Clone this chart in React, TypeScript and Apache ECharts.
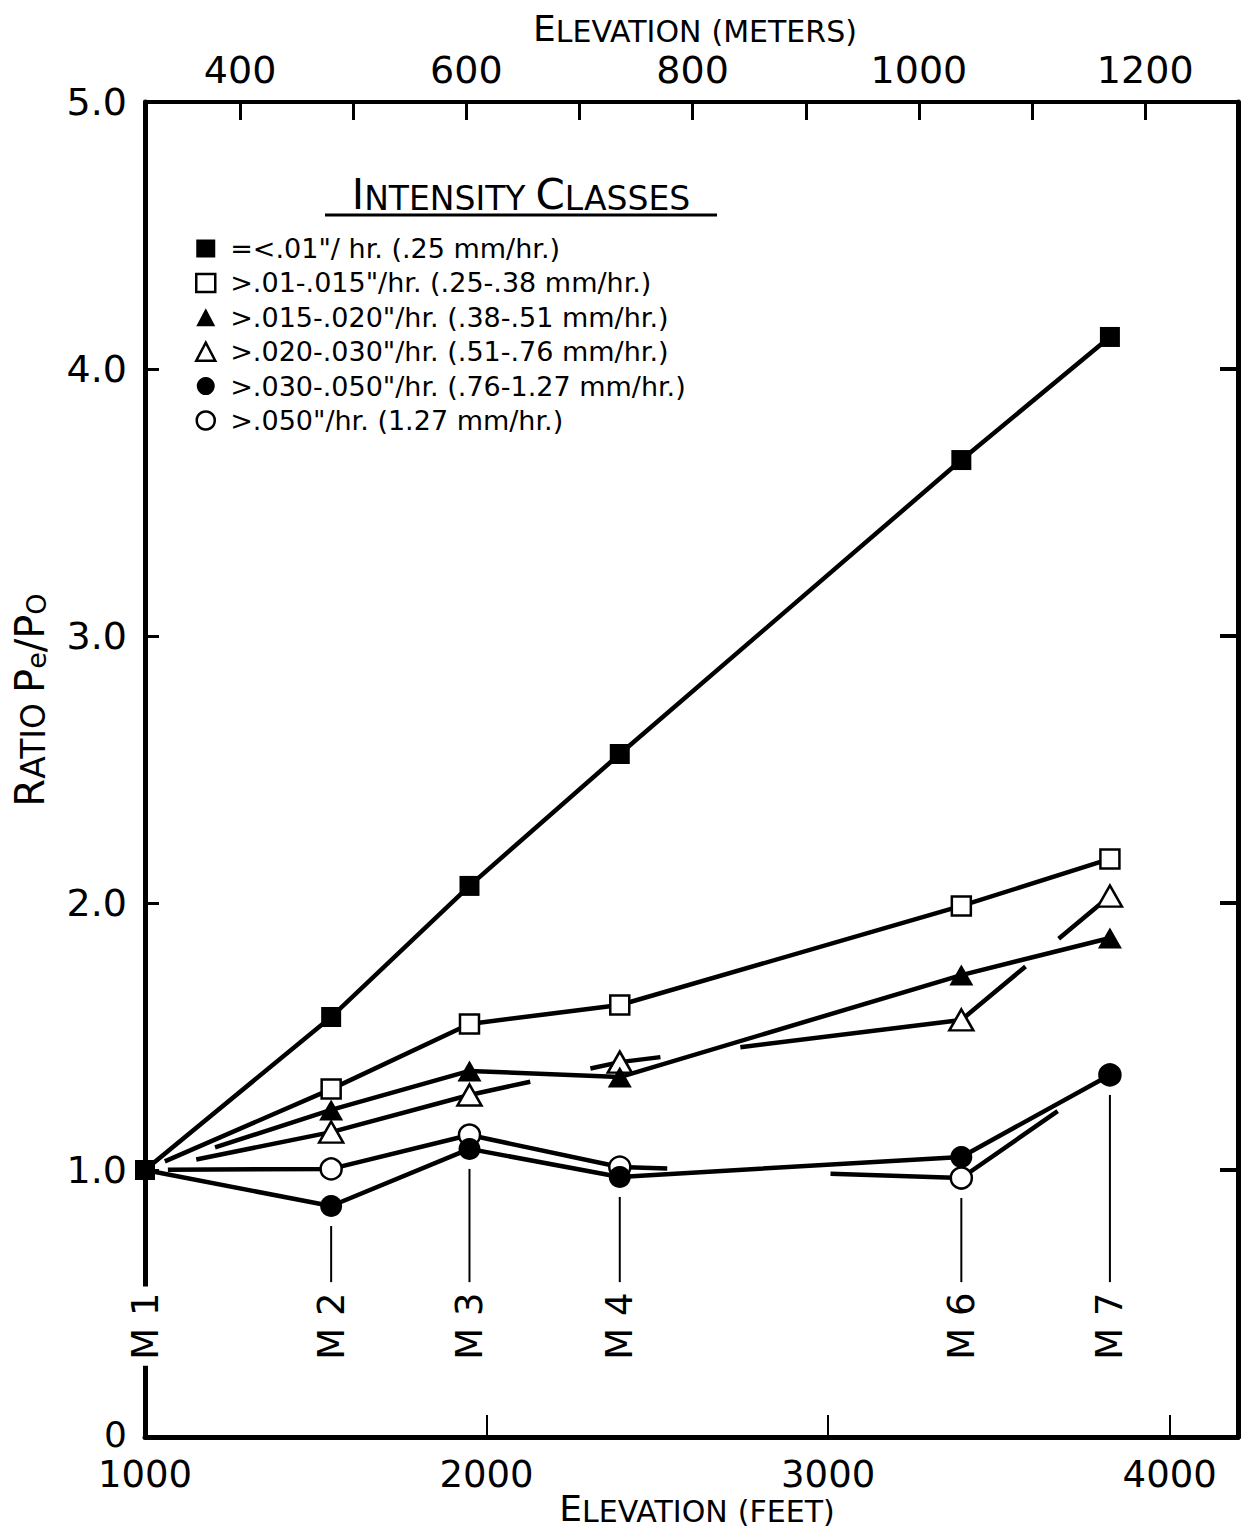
import React, { useEffect, useRef } from 'react';
import * as echarts from 'echarts';

// ---------- data ----------
const stationLabels = ['M 1', 'M 2', 'M 3', 'M 4', 'M 6', 'M 7'];
const elevationFt = [1000, 1545, 1950, 2390, 3390, 3825];

const classNames = [
  '=<.01"/ hr. (.25 mm/hr.)',
  '>.01-.015"/hr. (.25-.38 mm/hr.)',
  '>.015-.020"/hr. (.38-.51 mm/hr.)',
  '>.020-.030"/hr. (.51-.76 mm/hr.)',
  '>.030-.050"/hr. (.76-1.27 mm/hr.)',
  '>.050"/hr. (1.27 mm/hr.)',
];

const ratioFilledSquare = [1.0, 1.573, 2.064, 2.558, 3.659, 4.12];
const ratioOpenSquare = [1.0, 1.303, 1.547, 1.618, 1.989, 2.165];
const ratioFilledTriangle = [1.0, 1.225, 1.371, 1.348, 1.73, 1.869];
const ratioOpenTriangle = [1.0, 1.142, 1.281, 1.404, 1.562, 2.026];
const ratioFilledCircle = [1.0, 0.865, 1.079, 0.974, 1.049, 1.356];
const ratioOpenCircle = [1.0, 1.004, 1.131, 1.011, 0.97, 1.356];

const feetMin = 1000;
const feetMax = 4200;
const feetTickValues = [2000, 3000, 4000];
const feetLabelValues = [1000, 2000, 3000, 4000];
const meterMin = 316;
const meterMax = 1282;
const meterTickValues = [400, 500, 600, 700, 800, 900, 1000, 1100, 1200];
const meterLabelValues = [400, 600, 800, 1000, 1200];
const ratioMin = 0;
const ratioMax = 5;

// ---------- style (drafting breaks where lines cross, in feet along x) ----------
const breaksOpenSquare = [[1000, 1058]];
const breaksFilledTriangle = [[1000, 1205]];
const breaksOpenTriangle = [[1000, 1150], [2128, 2304], [2509, 2743], [3578, 3675]];
const breaksOpenCircle = [[1000, 1067], [2529, 3007], [3672, 3825]];

const FONT = 'DejaVu Sans';
const STATION_LINE_END = 0.58;
const STATION_LABEL_Y = 0.415;
const LINE_W = 4.5;

const seriesDefs = [
  { name: classNames[0], values: ratioFilledSquare, symbol: 'rect', size: 20, fill: '#000', breaks: [] as number[][], showFirst: true },
  { name: classNames[1], values: ratioOpenSquare, symbol: 'rect', size: 19, fill: '#fff', breaks: breaksOpenSquare, showFirst: false },
  { name: classNames[3], values: ratioOpenTriangle, symbol: 'triangle', size: [24, 21], fill: '#fff', breaks: breaksOpenTriangle, showFirst: false },
  { name: classNames[2], values: ratioFilledTriangle, symbol: 'triangle', size: [24, 21], fill: '#000', breaks: breaksFilledTriangle, showFirst: false },
  { name: classNames[5], values: ratioOpenCircle, symbol: 'circle', size: 21, fill: '#fff', breaks: breaksOpenCircle, showFirst: false },
  { name: classNames[4], values: ratioFilledCircle, symbol: 'circle', size: 22, fill: '#000', breaks: [] as number[][], showFirst: false },
];

const legendIcons = ['rect', 'rect', 'triangle', 'triangle', 'circle', 'circle'];
const legendFills = ['#000', '#fff', '#000', '#fff', '#000', '#fff'];

const lowestAtStation = elevationFt.map((_, i) =>
  Math.min(
    ratioFilledSquare[i], ratioOpenSquare[i], ratioFilledTriangle[i],
    ratioOpenTriangle[i], ratioFilledCircle[i], ratioOpenCircle[i]
  )
);

function computeDash(chart: any, values: number[], breaks: number[][]): any {
  if (!breaks.length) return 'solid';
  const pts = elevationFt.map((x, i) => chart.convertToPixel({ seriesIndex: 0 }, [x, values[i]]) as number[]);
  const cum = [0];
  for (let i = 1; i < pts.length; i++) {
    cum.push(cum[i - 1] + Math.hypot(pts[i][0] - pts[i - 1][0], pts[i][1] - pts[i - 1][1]));
  }
  const total = cum[cum.length - 1];
  const posAt = (ft: number) => {
    for (let i = 0; i < elevationFt.length - 1; i++) {
      if (ft <= elevationFt[i + 1]) {
        const t = Math.max(0, (ft - elevationFt[i]) / (elevationFt[i + 1] - elevationFt[i]));
        return cum[i] + t * (cum[i + 1] - cum[i]);
      }
    }
    return total;
  };
  const arr: number[] = [];
  let pos = 0;
  for (const [a, b] of breaks) {
    const s = posAt(a);
    const e = posAt(b);
    arr.push(Math.max(0, s - pos), Math.max(0.01, e - s));
    pos = e;
  }
  arr.push(Math.max(0, total - pos) + 60, 60);
  return arr;
}

const smallCaps = (big: number, small: number) => ({
  b: { fontSize: big, fontFamily: FONT, verticalAlign: 'bottom', lineHeight: big },
  s: { fontSize: small, fontFamily: FONT, verticalAlign: 'bottom', lineHeight: small },
});

function buildOption(dashes: any[] | null): any {
  const series: any[] = seriesDefs.map((d, i) => ({
    type: 'line',
    name: d.name,
    xAxisIndex: 0,
    yAxisIndex: 0,
    data: elevationFt.map((x, j) =>
      j === 0 && !d.showFirst ? { value: [x, d.values[j]], symbol: 'none' } : [x, d.values[j]]
    ),
    symbol: d.symbol,
    symbolSize: d.size,
    itemStyle: { color: d.fill, borderColor: '#000', borderWidth: d.fill === '#000' ? 0 : 2.5 },
    lineStyle: { color: '#000', width: LINE_W, type: dashes ? dashes[i] : 'solid' },
    emphasis: { disabled: true },
    silent: true,
  }));

  series.push({
    type: 'custom',
    name: 'stations',
    xAxisIndex: 0,
    yAxisIndex: 0,
    silent: true,
    data: elevationFt.map((x, i) => [x, lowestAtStation[i]]),
    renderItem: (params: any, api: any) => {
      const idx = params.dataIndex;
      const x = api.value(0);
      const low = api.value(1);
      const top = api.coord([x, low]);
      const bot = api.coord([x, STATION_LINE_END]);
      const lab = api.coord([x, STATION_LABEL_Y]);
      const children: any[] = [];
      if (idx > 0) {
        children.push({
          type: 'line',
          shape: { x1: top[0], y1: top[1] + 20, x2: top[0], y2: bot[1] },
          style: { stroke: '#000', lineWidth: 2 },
        });
      }
      children.push({
        type: 'text',
        x: lab[0],
        y: lab[1],
        rotation: Math.PI / 2,
        style: {
          text: stationLabels[idx],
          fontSize: 37,
          fontFamily: FONT,
          fill: '#000',
          align: 'center',
          verticalAlign: 'middle',
          backgroundColor: idx === 0 ? '#fff' : 'transparent',
          padding: idx === 0 ? [4, 6, 4, 6] : 0,
        },
      });
      return { type: 'group', children };
    },
  });

  const numFmt = (v: number) => String(v);

  return {
    animation: false,
    backgroundColor: '#fff',
    textStyle: { fontFamily: FONT, color: '#000' },
    grid: { left: 145, right: 11, top: 102, bottom: 91, containLabel: false },
    legend: {
      show: true,
      selectedMode: false,
      orient: 'vertical',
      left: 190,
      top: 230,
      itemWidth: 19,
      itemHeight: 18,
      itemGap: 7.4,
      data: classNames.map((n, i) => ({
        name: n,
        icon: legendIcons[i],
        itemStyle: { color: legendFills[i], borderColor: '#000', borderWidth: legendFills[i] === '#000' ? 0 : 2.5 },
      })),
      textStyle: { fontFamily: FONT, fontSize: 27, color: '#000', lineHeight: 27, padding: [0, 0, 0, 10] },
    },
    xAxis: [
      {
        type: 'value',
        position: 'bottom',
        min: feetMin,
        max: feetMax,
        axisLine: { show: true, onZero: false, lineStyle: { color: '#000', width: 5 } },
        axisTick: { show: true, inside: true, length: 22, customValues: feetTickValues, lineStyle: { color: '#000', width: 2 } },
        axisLabel: {
          show: true, fontFamily: FONT, fontSize: 37, lineHeight: 32, color: '#000', margin: 21,
          customValues: feetLabelValues, formatter: numFmt,
        },
        splitLine: { show: false },
      },
      {
        type: 'value',
        position: 'top',
        min: meterMin,
        max: meterMax,
        axisLine: { show: true, onZero: false, lineStyle: { color: '#000', width: 4 } },
        axisTick: { show: true, inside: true, length: 18, customValues: meterTickValues, lineStyle: { color: '#000', width: 3 } },
        axisLabel: {
          show: true, fontFamily: FONT, fontSize: 38, lineHeight: 32, color: '#000', margin: 16,
          customValues: meterLabelValues, formatter: numFmt,
        },
        splitLine: { show: false },
      },
    ],
    yAxis: [
      {
        type: 'value',
        position: 'left',
        min: ratioMin,
        max: ratioMax,
        interval: 1,
        axisLine: { show: true, onZero: false, lineStyle: { color: '#000', width: 5 } },
        axisTick: { show: true, inside: true, length: 14, lineStyle: { color: '#000', width: 3 } },
        axisLabel: {
          show: true, fontFamily: FONT, fontSize: 38, lineHeight: 32, color: '#000', margin: 18,
          formatter: (v: number) => (v === 0 ? '{z|0}' : v.toFixed(1)),
          rich: { z: { fontSize: 36, fontFamily: FONT, lineHeight: 30, padding: [0, 0, 6, 0] } },
        },
        splitLine: { show: false },
      },
      {
        type: 'value',
        position: 'right',
        min: ratioMin,
        max: ratioMax,
        interval: 1,
        axisLine: { show: true, onZero: false, lineStyle: { color: '#000', width: 5 } },
        axisTick: { show: true, inside: true, length: 18, lineStyle: { color: '#000', width: 4 } },
        axisLabel: { show: false },
        splitLine: { show: false },
      },
    ],
    graphic: [
      {
        type: 'text',
        x: 695,
        y: 28,
        style: {
          text: '{b|E}{s|LEVATION}   {s|(METERS)}',
          align: 'center',
          verticalAlign: 'middle',
          fill: '#000',
          rich: smallCaps(36, 30),
        },
      },
      {
        type: 'text',
        x: 697,
        y: 1508,
        style: {
          text: '{b|E}{s|LEVATION}   {s|(FEET)}',
          align: 'center',
          verticalAlign: 'middle',
          fill: '#000',
          rich: smallCaps(36, 30),
        },
      },
      {
        type: 'text',
        x: 30,
        y: 700,
        rotation: Math.PI / 2,
        style: {
          text: '{b|R}{s|ATIO}   {b|P}{sub|e}{b|/P}{sub|O}',
          align: 'center',
          verticalAlign: 'middle',
          fill: '#000',
          rich: {
            b: { fontSize: 40, fontFamily: FONT, verticalAlign: 'bottom', lineHeight: 40 },
            s: { fontSize: 33, fontFamily: FONT, verticalAlign: 'bottom', lineHeight: 33 },
            sub: { fontSize: 27, fontFamily: FONT, verticalAlign: 'bottom', lineHeight: 18 },
          },
        },
      },
      {
        type: 'text',
        x: 521,
        y: 194,
        style: {
          text: '{b|I}{s|NTENSITY}   {b|C}{s|LASSES}',
          align: 'center',
          verticalAlign: 'middle',
          fill: '#000',
          rich: smallCaps(42, 33),
        },
      },
      {
        type: 'line',
        shape: { x1: 325, y1: 215, x2: 717, y2: 215 },
        style: { stroke: '#000', lineWidth: 3 },
      },
    ],
    series,
  };
}

export default function App() {
  const ref = useRef<HTMLDivElement>(null);
  useEffect(() => {
    document.body.style.margin = '0';
    const chart = echarts.init(ref.current as HTMLDivElement, null, { renderer: 'svg' });
    chart.setOption(buildOption(null));
    const dashes = seriesDefs.map((d) => computeDash(chart, d.values, d.breaks));
    chart.setOption(buildOption(dashes));
    return () => chart.dispose();
  }, []);
  return <div ref={ref} style={{ width: 1249, height: 1528 }} />;
}
